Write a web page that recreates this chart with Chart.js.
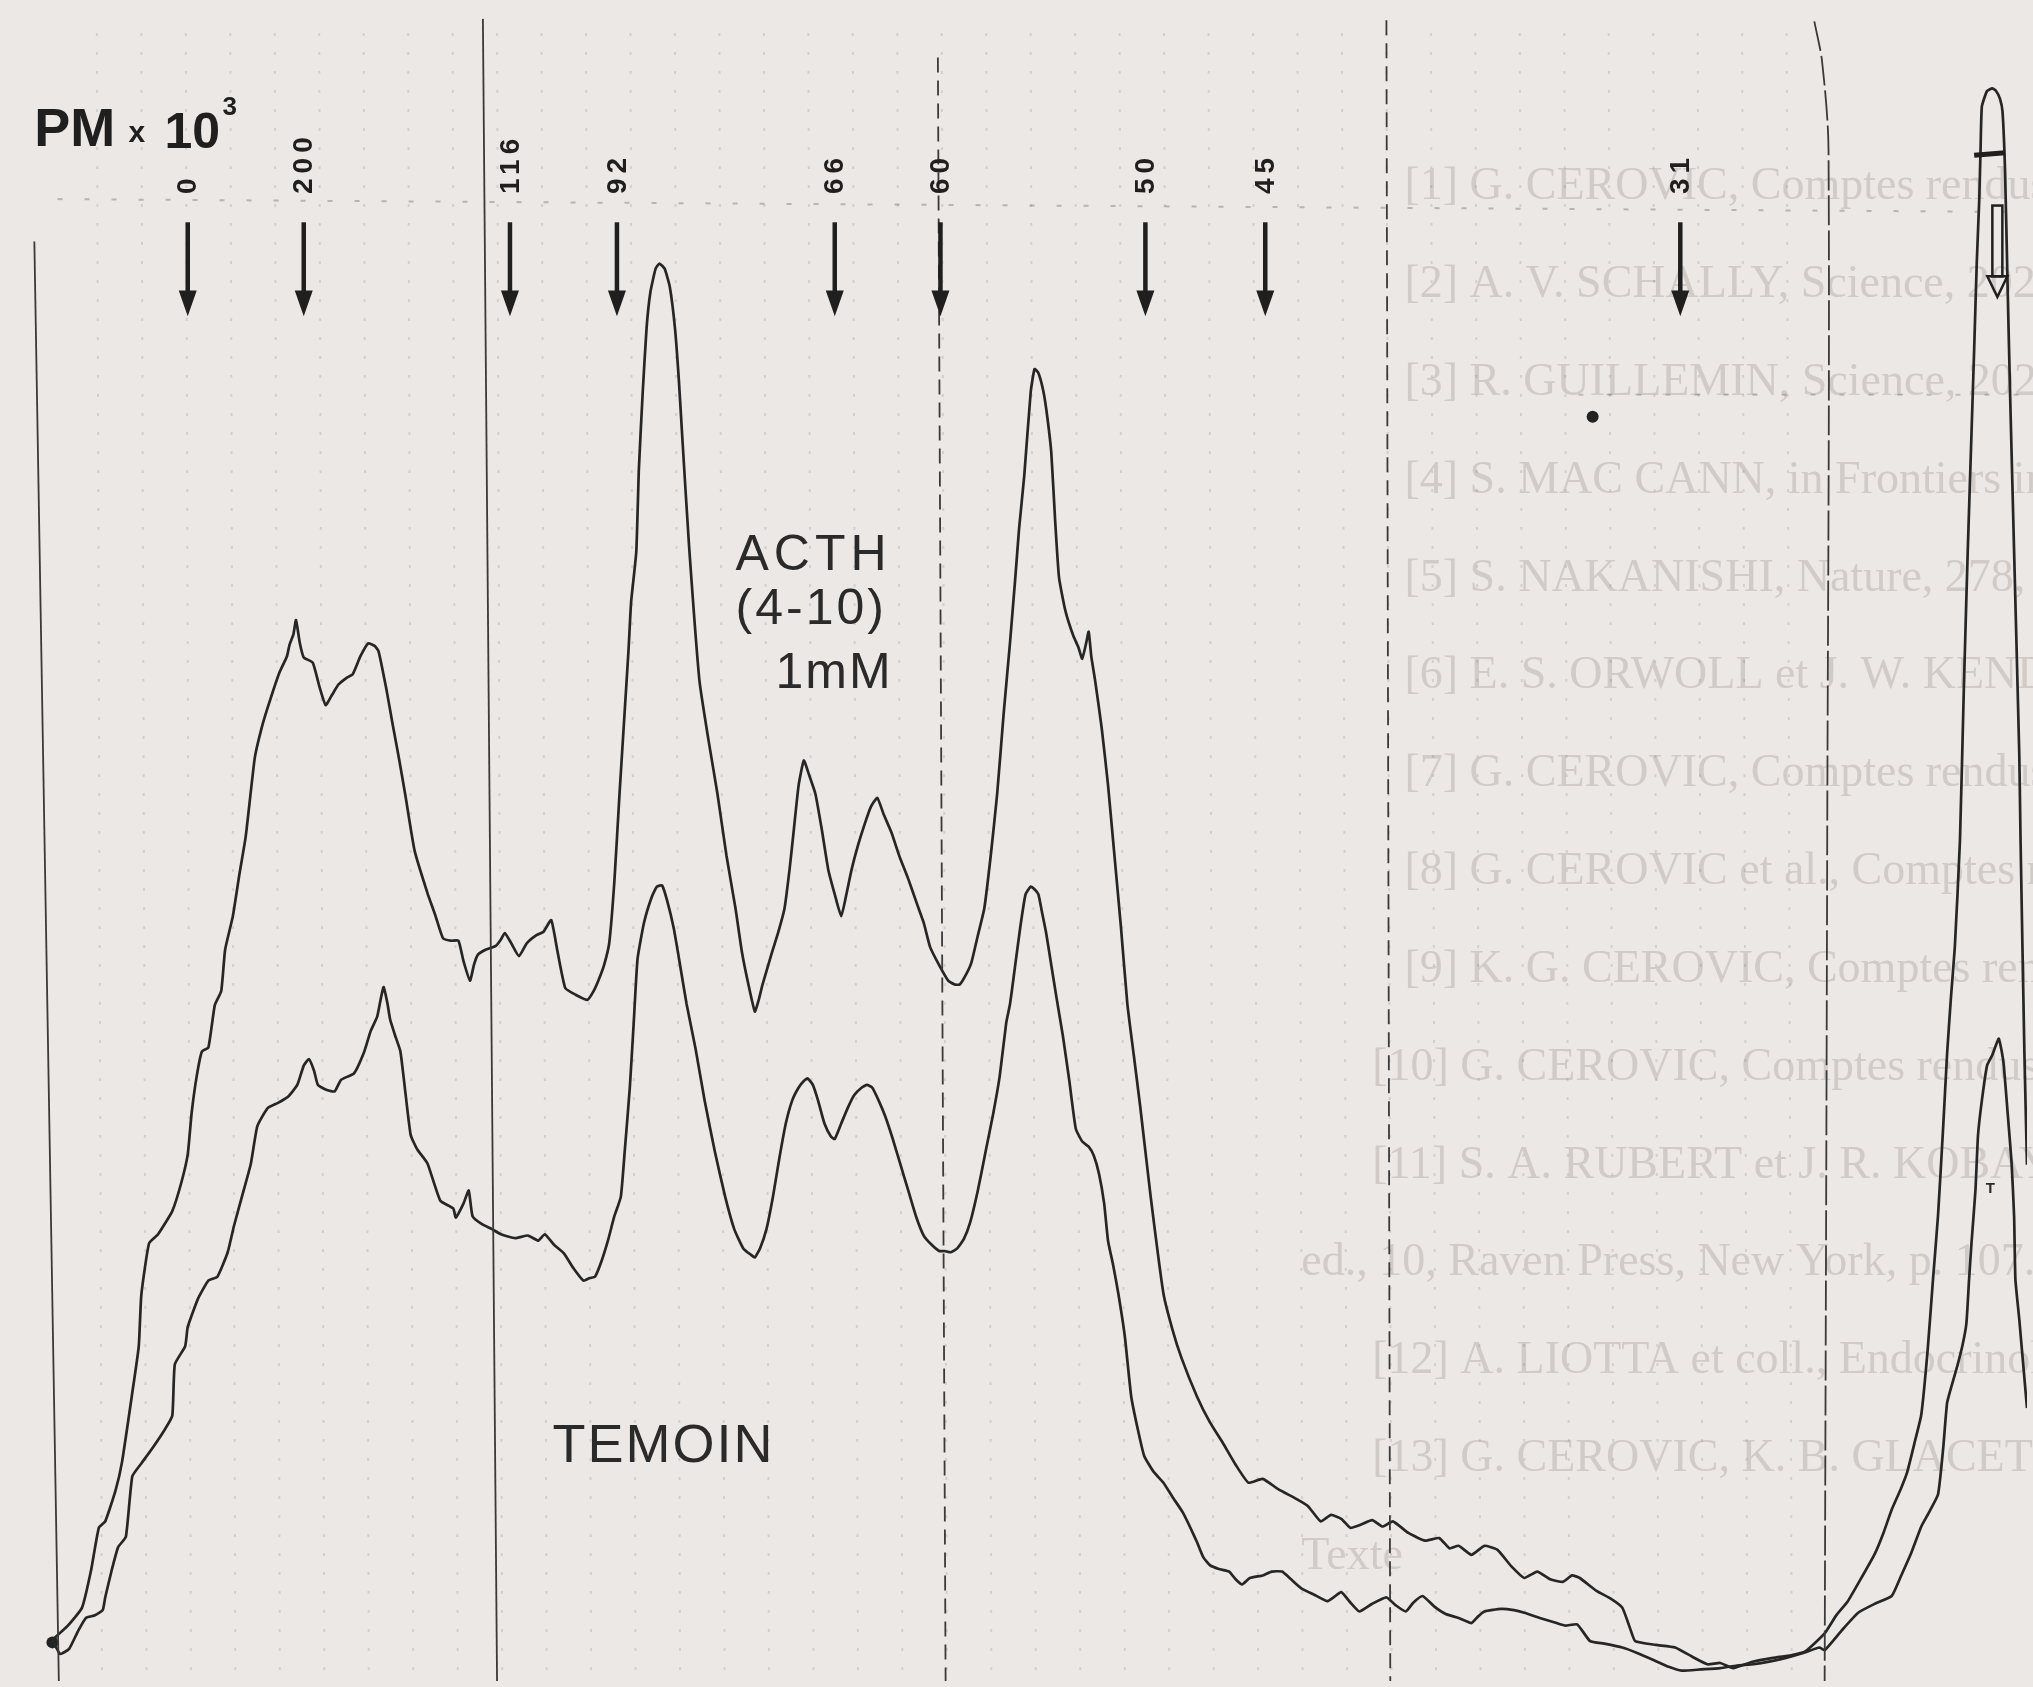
<!DOCTYPE html>
<html>
<head>
<meta charset="utf-8">
<title>PM x 10^3 - ACTH (4-10) 1mM / TEMOIN</title>
<script src="https://cdn.jsdelivr.net/npm/chart.js@4.4.1/dist/chart.umd.min.js"></script>
<style>
  html, body { margin: 0; padding: 0; background: #ece8e5; }
  #wrap { position: relative; width: 2033px; height: 1687px; }
</style>
</head>
<body>
<div id="wrap"><canvas id="trace"></canvas></div>
<script>
// Densitometric scan: migration distance (arbitrary units) vs optical density (arbitrary units)

// ACTH (4-10) 1mM trace
const acthDist = [
  36, 48, 59, 66, 72, 77, 85, 90, 98, 103,
  105, 111, 118, 129, 136, 141, 144, 148, 152, 157,
  162, 167, 170, 176, 181, 186, 193, 198, 203, 212,
  218, 220, 223, 225, 228, 231, 238, 243, 248, 253,
  258, 264, 269, 275, 281, 286, 289, 295, 300, 305,
  310, 317, 327, 333, 339, 345, 351, 355, 360, 363,
  366, 372, 380, 384, 387, 392, 398, 404, 411, 417,
  423, 428, 434, 442, 451, 456, 460, 464, 468, 472,
  476, 480, 483, 485, 489, 491, 494, 497, 500, 504,
  507, 511, 515, 519, 522, 525, 530, 538, 545, 552,
  559, 566, 571, 576, 581, 584, 587, 594, 599, 604,
  608, 611, 615, 619, 623, 628, 633, 638, 643, 648,
  652, 656, 661, 666, 671, 676, 681, 687, 693, 700,
  707, 712, 717, 724, 731, 736, 740, 745, 749, 754,
  759, 764, 769, 774, 779, 783, 786, 790, 795, 798,
  801, 805, 808, 811, 814, 817, 822, 828, 832, 835,
  838, 840, 842, 845, 850, 855, 860, 865, 870, 875,
  880, 888, 898, 905, 912, 924, 934, 944, 954, 964,
  975, 987, 1000, 1010, 1020, 1028, 1036, 1043, 1050, 1060,
  1068, 1076, 1088, 1101, 1112, 1120, 1127, 1137, 1147, 1157,
  1168, 1178, 1188, 1198, 1208, 1215, 1221, 1234, 1245, 1254,
  1260, 1264, 1280, 1295, 1308, 1320, 1330, 1340, 1355, 1371,
  1385, 1396, 1411, 1420, 1429, 1440, 1450, 1457, 1463, 1470,
  1475, 1481, 1486, 1491, 1495, 1499, 1503, 1506, 1509, 1512,
  1516, 1519, 1522, 1525, 1527, 1529, 1531, 1532, 1533, 1537,
  1541, 1544, 1547, 1549, 1551, 1553, 1555, 1558, 1562, 1563,
  1566, 1568
];
const acthDensity = [
  32, 43, 57, 86, 119, 124, 148, 170, 224, 260,
  300, 340, 347, 365, 387, 409, 441, 470, 489, 492,
  525, 536, 568, 594, 626, 656, 717, 739, 756, 783,
  796, 805, 813, 824, 806, 795, 791, 773, 758, 766,
  774, 779, 782, 796, 806, 804, 800, 771, 743, 716,
  687, 645, 612, 595, 577, 575, 575, 559, 544, 556,
  564, 568, 571, 576, 581, 573, 563, 573, 579, 582,
  591, 566, 538, 533, 529, 536, 545, 556, 573, 621,
  689, 753, 801, 838, 877, 941, 1001, 1051, 1079, 1097,
  1101, 1097, 1083, 1051, 1011, 961, 881, 777, 731, 689,
  641, 600, 566, 541, 520, 529, 541, 565, 581, 600,
  631, 659, 696, 715, 704, 689, 661, 630, 611, 594,
  611, 630, 649, 665, 679, 686, 673, 659, 641, 623,
  603, 589, 570, 556, 544, 541, 541, 549, 558, 579,
  600, 641, 689, 751, 807, 856, 895, 936, 1001, 1019,
  1016, 1001, 981, 954, 901, 857, 831, 812, 803, 794,
  806, 815, 796, 777, 741, 696, 641, 586, 526, 486,
  446, 377, 301, 273, 251, 221, 201, 185, 168, 154,
  157, 149, 142, 136, 124, 129, 126, 119, 121, 125,
  120, 124, 115, 109, 111, 103, 105, 98, 105, 102,
  89, 80, 85, 79, 77, 82, 80, 70, 64, 57,
  41, 31, 28, 26, 19, 13, 14, 10, 15, 18,
  20, 23, 37, 51, 62, 81, 99, 116, 133, 149,
  162, 186, 207, 258, 311, 362, 431, 487, 531, 570,
  653, 771, 877, 971, 1034, 1101, 1152, 1191, 1223, 1235,
  1237, 1235, 1229, 1219, 1172, 1081, 995, 877, 720, 653,
  487, 401
];

// TEMOIN (control) trace
const temoinDist = [
  36, 42, 49, 56, 62, 69, 75, 77, 82, 87,
  93, 98, 105, 113, 123, 129, 131, 139, 141, 149,
  157, 164, 172, 177, 183, 190, 195, 203, 211, 219,
  226, 231, 235, 239, 242, 249, 255, 260, 270, 278,
  283, 288, 291, 293, 296, 298, 302, 306, 310, 314,
  319, 327, 337, 347, 349, 355, 359, 362, 369, 377,
  384, 395, 405, 413, 418, 425, 433, 440, 448, 453,
  457, 462, 467, 472, 477, 480, 484, 487, 490, 495,
  501, 505, 509, 513, 518, 523, 528, 535, 542, 550,
  558, 565, 572, 578, 581, 585, 590, 595, 600, 605,
  610, 615, 619, 622, 626, 630, 635, 640, 643, 648,
  653, 658, 664, 668, 672, 677, 682, 688, 694, 700,
  706, 712, 718, 724, 728, 733, 738, 743, 748, 754,
  760, 766, 771, 776, 779, 783, 787, 791, 795, 798,
  801, 804, 807, 811, 815, 820, 825, 830, 835, 840,
  844, 848, 852, 855, 859, 863, 868, 873, 878, 883,
  890, 898, 905, 913, 918, 924, 929, 934, 941, 949,
  954, 959, 965, 975, 982, 990, 997, 1005, 1015, 1025,
  1030, 1036, 1043, 1050, 1060, 1071, 1078, 1086, 1092, 1099,
  1108, 1117, 1127, 1137, 1142, 1147, 1160, 1170, 1178, 1190,
  1203, 1210, 1219, 1229, 1240, 1254, 1265, 1279, 1290, 1300,
  1315, 1330, 1343, 1356, 1368, 1381, 1395, 1407, 1411, 1424,
  1437, 1450, 1463, 1470, 1478, 1486, 1492, 1499, 1503, 1506,
  1510, 1514, 1518, 1521, 1523, 1525, 1528, 1530, 1533, 1537,
  1541, 1546, 1548, 1550, 1553, 1556, 1558, 1559, 1562, 1564,
  1568
];
const temoinDensity = [
  32, 21, 25, 39, 49, 51, 55, 65, 86, 104,
  112, 159, 169, 180, 195, 206, 246, 260, 275, 297,
  311, 314, 333, 354, 376, 402, 431, 445, 449, 454,
  463, 478, 483, 474, 463, 459, 458, 467, 472, 489,
  505, 516, 531, 539, 526, 514, 501, 489, 456, 424,
  413, 402, 373, 367, 360, 371, 381, 361, 355, 351,
  347, 344, 346, 342, 347, 339, 332, 321, 311, 313,
  314, 326, 342, 361, 376, 411, 461, 511, 561, 589,
  609, 617, 618, 606, 585, 556, 526, 491, 451, 411,
  376, 351, 336, 331, 329, 336, 351, 376, 406, 433,
  451, 461, 466, 468, 463, 451, 433, 423, 421, 433,
  445, 455, 461, 463, 461, 451, 439, 421, 401, 381,
  361, 346, 339, 334, 334, 333, 336, 343, 356, 381,
  411, 441, 470, 511, 526, 556, 586, 611, 617, 615,
  611, 596, 581, 556, 531, 501, 466, 429, 419, 415,
  408, 394, 371, 342, 323, 301, 268, 221, 196, 175,
  163, 154, 143, 131, 121, 108, 96, 90, 87, 85,
  79, 75, 80, 82, 85, 85, 79, 72, 67, 62,
  65, 69, 61, 54, 60, 65, 59, 54, 61, 66,
  58, 52, 49, 45, 50, 54, 56, 55, 53, 49,
  45, 43, 44, 31, 29, 26, 22, 16, 11, 8,
  9, 10, 12, 13, 15, 18, 22, 26, 24, 39,
  53, 60, 66, 81, 99, 120, 131, 145, 181, 216,
  231, 245, 261, 278, 311, 341, 381, 424, 451, 478,
  486, 499, 491, 478, 441, 403, 361, 312, 281, 258,
  212
];

// molecular weight markers (PM x 10^3) and their migration distance
const markerLabels = ['0', '200', '116', '92', '66', '60', '50', '45', '31'];
const markerDist = [141, 231, 391, 474, 643, 725, 884, 977, 1299];

// text of the facing page that shows through the paper
const showThrough = [
  '[1] G. CEROVIC, Comptes rendus, 265, série D, 1967',
  '[2] A. V. SCHALLY, Science, 202, 1978, p. 18.',
  '[3] R. GUILLEMIN, Science, 202, 1978, p. 390.',
  '[4] S. MAC CANN, in Frontiers in Neuroendocrinology',
  '[5] S. NAKANISHI, Nature, 278, 1979, p. 423.',
  '[6] E. S. ORWOLL et J. W. KENDALL, Endocrinology',
  '[7] G. CEROVIC, Comptes rendus, 293, série III, 1981',
  '[8] G. CEROVIC et al., Comptes rendus',
  '[9] K. G. CEROVIC, Comptes rendus, série III, 1983',
  '[10] G. CEROVIC, Comptes rendus, 298, série III, 1984',
  '[11] S. A. RUBERT et J. R. KOBAYASHI,',
  'ed., 10, Raven Press, New York, p. 107.',
  '[12] A. LIOTTA et coll., Endocrinology, 101, 1977, p.',
  '[13] G. CEROVIC, K. B. GLACET et P. CASSINELLI,',
  'Texte'
];

const xMax = 1568, yMax = 1301;

function pairs(xs, ys) {
  const n = Math.min(xs.length, ys.length);
  const out = [];
  for (let i = 0; i < n; i++) out.push({ x: xs[i], y: ys[i] });
  return out;
}

// recorder paper lines
const paperSolid = [
  [{ x: 22, y: 1118 }, { x: 41, y: 0 }],
  [{ x: 370, y: 1291 }, { x: 381, y: 0 }]
];
const paperDashed = [
  [{ x: 723, y: 1261 }, { x: 729, y: 0 }],
  [{ x: 1071, y: 1290 }, { x: 1074, y: 0 }]
];
const paperCurve = [{ x: 1403, y: 1289 }, { x: 1409, y: 1258 }, { x: 1414, y: 1190 }, { x: 1413, y: 653 }, { x: 1411, y: 0 }];

const lineDs = (data, opts) => Object.assign({
  data, borderColor: '#3a3a3a', borderWidth: 1.8, pointRadius: 0, fill: false, tension: 0
}, opts);

const datasets = [
  ...paperSolid.map(d => lineDs(d, {})),
  ...paperDashed.map(d => lineDs(d, { borderDash: [15, 8] })),
  lineDs(paperCurve, { borderDash: [30, 5], tension: 0.3 }),
  lineDs([{ x: 40, y: 1151 }, { x: 1568, y: 1141 }], { borderColor: 'rgba(60,60,60,0.3)', borderWidth: 2, borderDash: [5, 22] }),
  lineDs([{ x: 1220, y: 999 }, { x: 1568, y: 999 }], { borderColor: 'rgba(60,60,60,0.25)', borderWidth: 2, borderDash: [5, 24] }),
  { label: 'ACTH (4-10) 1mM', data: pairs(acthDist, acthDensity), borderColor: '#262626', borderWidth: 2.7, pointRadius: 0, fill: false, tension: 0.15 },
  { label: 'TEMOIN', data: pairs(temoinDist, temoinDensity), borderColor: '#262626', borderWidth: 2.7, pointRadius: 0, fill: false, tension: 0.15 },
  { label: 'spots', data: [{ x: 36, y: 30 }, { x: 1231, y: 982 }], showLine: false, pointRadius: 6, pointBackgroundColor: '#222', pointBorderWidth: 0 }
];

const paperGrid = {
  id: 'paperGrid',
  beforeDatasetsDraw(chart) {
    const { ctx, scales: { x, y } } = chart;
    ctx.save();
    // show-through text
    ctx.fillStyle = '#d0cbc7';
    ctx.font = '46px "Liberation Serif", "DejaVu Serif", serif';
    ctx.textBaseline = 'alphabetic';
    showThrough.forEach((s, i) => {
      const vx = s.startsWith('[1') && s[2] !== ']' ? 1060 : (s.startsWith('[') ? 1085 : 1005);
      ctx.fillText(s, x.getPixelForValue(vx), y.getPixelForValue(yMax - 150 - i * 76));
    });
    // faint dotted ruling
    ctx.strokeStyle = 'rgba(70,70,70,0.15)';
    ctx.lineWidth = 2;
    ctx.setLineDash([3, 16]);
    for (let v = 72.5; v < 1400; v += 34.5) {
      ctx.beginPath();
      ctx.moveTo(x.getPixelForValue(v - 2), y.getPixelForValue(1280));
      ctx.lineTo(x.getPixelForValue(v + 2), y.getPixelForValue(0));
      ctx.stroke();
    }
    ctx.restore();
  }
};

const annotations = {
  id: 'annotations',
  afterDatasetsDraw(chart) {
    const { ctx, scales: { x, y } } = chart;
    const ink = '#1f1f1f';
    ctx.save();
    ctx.fillStyle = ink;
    ctx.strokeStyle = ink;

    // marker arrows + rotated labels
    const arrowTop = yMax - 168, arrowNeck = yMax - 221, arrowTip = yMax - 241, labelBase = yMax - 146;
    markerDist.forEach((d, i) => {
      const px = x.getPixelForValue(d);
      ctx.lineWidth = 4.5;
      ctx.setLineDash([]);
      ctx.beginPath();
      ctx.moveTo(px, y.getPixelForValue(arrowTop));
      ctx.lineTo(px, y.getPixelForValue(arrowNeck) + 2);
      ctx.stroke();
      ctx.beginPath();
      ctx.moveTo(px - 9, y.getPixelForValue(arrowNeck));
      ctx.lineTo(px + 9, y.getPixelForValue(arrowNeck));
      ctx.lineTo(px, y.getPixelForValue(arrowTip));
      ctx.closePath();
      ctx.fill();

      ctx.save();
      ctx.translate(px, y.getPixelForValue(labelBase));
      ctx.rotate(-Math.PI / 2);
      ctx.font = 'bold 28px "Liberation Sans", Arial, sans-serif';
      ctx.letterSpacing = '5px';
      ctx.textAlign = 'left';
      ctx.textBaseline = 'middle';
      ctx.fillText(markerLabels[i], 0, 1);
      ctx.restore();
    });

    // axis unit: PM x 10^3
    const txt = (s, vx, vy, font, spacing) => {
      ctx.font = font;
      ctx.letterSpacing = spacing || '0px';
      ctx.textAlign = 'left';
      ctx.textBaseline = 'alphabetic';
      ctx.fillText(s, x.getPixelForValue(vx), y.getPixelForValue(vy));
    };
    txt('PM', 22, yMax - 109, 'bold 54px "Liberation Sans", Arial, sans-serif');
    txt('x', 95, yMax - 106, 'bold 30px "Liberation Sans", Arial, sans-serif');
    txt('10', 123, yMax - 110, 'bold 50px "Liberation Sans Narrow", "Liberation Sans", sans-serif');
    txt('3', 168, yMax - 85, 'bold 26px "Liberation Sans", Arial, sans-serif');

    // trace labels
    ctx.fillStyle = '#2a2a2a';
    txt('ACTH', 566, yMax - 438, '50px "Liberation Sans", Arial, sans-serif', '5px');
    txt('(4-10)', 566, yMax - 480, '50px "Liberation Sans", Arial, sans-serif', '3px');
    txt('1mM', 597, yMax - 530, '50px "Liberation Sans", Arial, sans-serif', '2px');
    txt('TEMOIN', 424, yMax - 1131, '54px "Liberation Sans", Arial, sans-serif', '2px');
    txt('T', 1536, yMax - 922, 'bold 15px "Liberation Sans", Arial, sans-serif');

    // pen mark inside the tall peak
    ctx.lineWidth = 5;
    ctx.beginPath();
    ctx.moveTo(x.getPixelForValue(1527), y.getPixelForValue(yMax - 116));
    ctx.lineTo(x.getPixelForValue(1551), y.getPixelForValue(yMax - 114));
    ctx.stroke();
    const ax = x.getPixelForValue(1545);
    ctx.lineWidth = 2.5;
    ctx.strokeRect(ax - 5, y.getPixelForValue(yMax - 155), 10, y.getPixelForValue(yMax - 210) - y.getPixelForValue(yMax - 155));
    ctx.beginPath();
    ctx.moveTo(ax - 10, y.getPixelForValue(yMax - 210));
    ctx.lineTo(ax + 10, y.getPixelForValue(yMax - 210));
    ctx.lineTo(ax, y.getPixelForValue(yMax - 226));
    ctx.closePath();
    ctx.stroke();
    ctx.restore();
  }
};

new Chart(document.getElementById('trace'), {
  type: 'line',
  data: { datasets },
  options: {
    responsive: true,
    maintainAspectRatio: false,
    animation: false,
    layout: { padding: 0 },
    plugins: { legend: { display: false }, tooltip: { enabled: false }, title: { display: false } },
    scales: {
      x: { type: 'linear', min: 0, max: xMax, display: false },
      y: { type: 'linear', min: 0, max: yMax, display: false }
    }
  },
  plugins: [paperGrid, annotations]
});
</script>
</body>
</html>
